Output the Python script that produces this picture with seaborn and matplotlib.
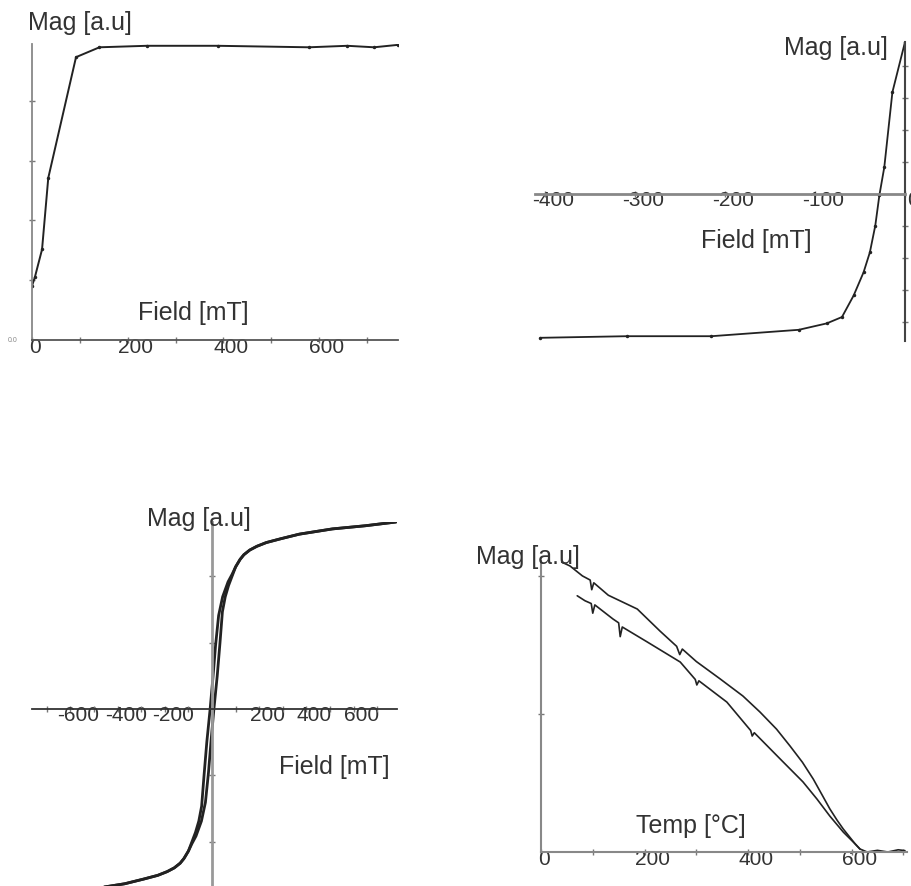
import matplotlib
matplotlib.use('Agg')
import matplotlib.pyplot as plt
import matplotlib.transforms as mtransforms
import seaborn as sns

# IRM acquisition (top left)
irm_field = [0, 6, 21, 34, 92, 141, 240, 388, 579, 659, 715, 764]
irm_mag = [0.181, 0.21, 0.303, 0.542, 0.946, 0.979, 0.984, 0.984, 0.979, 0.984, 0.979, 0.987]

# backfield demagnetisation (top right)
bf_field = [0, -14, -23, -28.5, -33, -39, -46, -57, -70, -87, -118, -215, -309, -405]
bf_mag = [0.95, 0.636, 0.167, -0.01, -0.198, -0.365, -0.49, -0.635, -0.77, -0.81, -0.85, -0.89, -0.89, -0.90]

# hysteresis loop (bottom left)
desc_field = [780, 650, 510, 370, 290, 230, 190, 160, 135, 119, 100, 85, 68, 45, 28, 15, 4, -8,
              -22, -34, -44, -56, -70, -85, -100, -119, -135, -160, -190, -230, -290, -370, -510,
              -650, -780]
desc_mag = [1.0, 0.98, 0.963, 0.935, 0.91, 0.89, 0.87, 0.85, 0.825, 0.80, 0.76, 0.72, 0.68, 0.60,
            0.50, 0.34, 0.17, 0.0, -0.176, -0.358, -0.52, -0.60, -0.66, -0.71, -0.76, -0.80, -0.825,
            -0.85, -0.87, -0.89, -0.91, -0.935, -0.963, -0.98, -1.0]
asc_field = [-780, -650, -510, -370, -290, -230, -190, -160, -135, -119, -100, -85, -68, -45, -28,
             -15, -4, 8, 22, 34, 44, 56, 70, 85, 100, 119, 135, 160, 190, 230, 290, 370, 510, 650, 780]
asc_mag = [-1.0, -0.98, -0.963, -0.935, -0.91, -0.89, -0.87, -0.85, -0.825, -0.80, -0.76, -0.72, -0.68,
           -0.60, -0.50, -0.34, -0.17, 0.0, 0.176, 0.358, 0.52, 0.60, 0.66, 0.71, 0.76, 0.80, 0.825,
           0.85, 0.87, 0.89, 0.91, 0.935, 0.963, 0.98, 1.0]

# thermomagnetic curves (bottom right)
heat_temp = [40, 56, 80, 95, 98, 102, 130, 186, 230, 262, 268, 273, 300, 346, 390, 423, 455, 481,
             505, 526, 545, 558, 572, 584, 607, 616, 630, 650, 670, 690, 703]
heat_mag = [1.05, 1.036, 1.0, 0.985, 0.95, 0.975, 0.93, 0.88, 0.80, 0.745, 0.715, 0.735, 0.69, 0.627,
            0.565, 0.507, 0.445, 0.384, 0.325, 0.264, 0.20, 0.156, 0.115, 0.083, 0.029, 0.011, 0.0,
            0.006, 0.0, 0.008, 0.005]
cool_temp = [70, 85, 97, 100, 104, 139, 150, 153, 157, 205, 269, 298, 301, 305, 359, 405, 408, 412,
             462, 506, 533, 558, 584, 607, 616]
cool_mag = [0.928, 0.91, 0.90, 0.865, 0.895, 0.844, 0.83, 0.78, 0.815, 0.761, 0.688, 0.625, 0.605,
            0.62, 0.543, 0.44, 0.42, 0.432, 0.337, 0.254, 0.192, 0.13, 0.072, 0.029, 0.011]

sns.set_theme(style='white')
plt.rcParams['font.family'] = ['Liberation Sans', 'DejaVu Sans']
plt.rcParams['axes.unicode_minus'] = False

W, H = 911, 887
fig = plt.figure(figsize=(W / 100, H / 100), dpi=100)


def box(l, t, r, b):
    return [l / W, 1 - b / H, (r - l) / W, (b - t) / H]


def label(x, y, s, size=18):
    fig.text(x / W, 1 - y / H, s, ha='center', va='center', fontsize=size, color='#333333')


def style(ax, left_c, bottom_c, left_w=1.3, bottom_w=1.3, zero=False):
    for s in ['top', 'right']:
        ax.spines[s].set_visible(False)
    if zero:
        ax.spines['left'].set_position(('data', 0))
        ax.spines['bottom'].set_position(('data', 0))
    ax.spines['left'].set_color(left_c)
    ax.spines['left'].set_linewidth(left_w)
    ax.spines['bottom'].set_color(bottom_c)
    ax.spines['bottom'].set_linewidth(bottom_w)
    ax.set_facecolor('none')
    ax.tick_params(axis='both', which='both', direction='inout', length=4, width=1,
                   colors='#777777', labelcolor='#333333', labelsize=15, pad=-4.5,
                   bottom=True, left=True)
    ax.set_yticklabels([])
    ax.set_xlabel('')
    ax.set_ylabel('')
    lo = ax.get_xlim()[0]
    for loc, lab in zip(ax.get_xticks(), ax.get_xticklabels()):
        dx = 3 if loc == lo else 8
        shift = mtransforms.ScaledTranslation(dx / 100, 0, fig.dpi_scale_trans)
        lab.set_transform(lab.get_transform() + shift)


line_kw = dict(color='#222222', sort=False, estimator=None, legend=False)

# top left
ax1 = fig.add_axes(box(32, 45, 398, 341))
sns.lineplot(x=irm_field, y=irm_mag, ax=ax1, lw=1.4, marker='o', markersize=2.5, mec='none', **line_kw)
ax1.set_xlim(0, 765)
ax1.set_ylim(0, 0.99)
ax1.set_xticks([0, 200, 400, 600])
ax1.set_xticks([100, 300, 500, 700], minor=True)
ax1.set_yticks([0.2, 0.4, 0.6, 0.8])
style(ax1, '#888888', '#555555')
label(80, 23, 'Mag [a.u]')
label(193, 313, 'Field [mT]')
fig.text(13 / W, 1 - 341 / H, '0.0', ha='center', va='center', fontsize=5, color='#888888')

# top right
ax2 = fig.add_axes(box(535, 43, 905, 342))
sns.lineplot(x=bf_field, y=bf_mag, ax=ax2, lw=1.3, marker='o', markersize=2.5, mec='none', **line_kw)
ax2.set_xlim(-411, 0)
ax2.set_ylim(-0.92, 0.95)
ax2.set_xticks([-400, -300, -200, -100, 0])
ax2.set_yticks([-0.8, -0.6, -0.4, -0.2, 0.2, 0.4, 0.6, 0.8])
style(ax2, '#444444', '#888888', left_w=1.5, bottom_w=2, zero=True)
label(836, 48, 'Mag [a.u]')
label(756, 241, 'Field [mT]')

# bottom left
ax3 = fig.add_axes(box(32, 523, 397, 887))
sns.lineplot(x=desc_field, y=desc_mag, ax=ax3, lw=2, **line_kw)
sns.lineplot(x=asc_field, y=asc_mag, ax=ax3, lw=2, **line_kw)
ax3.set_xlim(-763, 784)
ax3.set_ylim(-0.947, 1.0)
ax3.set_xticks([-600, -400, -200, 200, 400, 600])
ax3.set_xticks([-700, -500, -300, -100, 100, 300, 500, 700], minor=True)
ax3.set_yticks([-0.71, -0.355, 0.355, 0.71])
style(ax3, '#999999', '#333333', left_w=2, bottom_w=1.3, zero=True)
label(199, 519, 'Mag [a.u]')
label(334, 767, 'Field [mT]')

# bottom right
ax4 = fig.add_axes(box(541, 562, 907, 853))
sns.lineplot(x=heat_temp, y=heat_mag, ax=ax4, lw=1.2, **line_kw)
sns.lineplot(x=cool_temp, y=cool_mag, ax=ax4, lw=1.2, **line_kw)
ax4.set_xlim(0, 707)
ax4.set_ylim(0, 1.054)
ax4.set_xticks([0, 200, 400, 600])
ax4.set_xticks([100, 300, 500, 700], minor=True)
ax4.set_yticks([0.5, 1.0])
style(ax4, '#888888', '#888888', left_w=1.5, bottom_w=1.5)
label(528, 557, 'Mag [a.u]')
label(691, 826, 'Temp [°C]')

fig.savefig('out.png', dpi=100)
